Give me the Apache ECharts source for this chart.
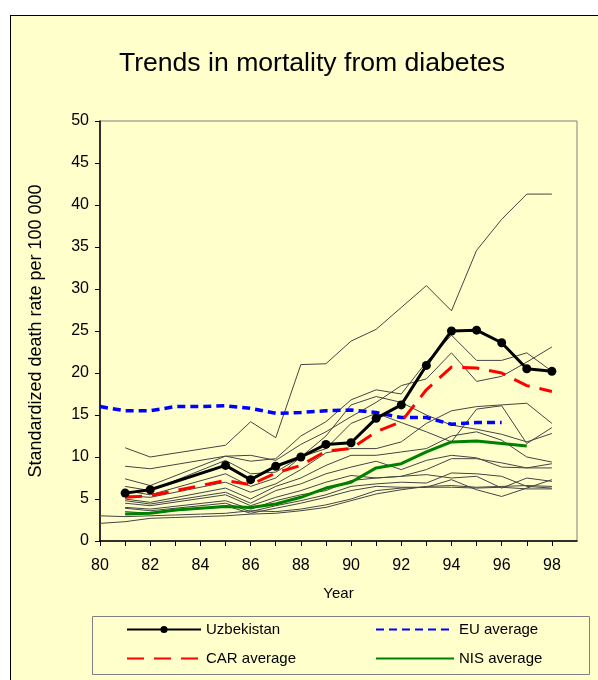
<!DOCTYPE html>
<html>
<head>
<meta charset="utf-8">
<script src="https://cdn.jsdelivr.net/npm/echarts@6/dist/echarts.min.js"></script>
<style>
  html, body { margin: 0; padding: 0; background: #fff; }
  #frame { position: absolute; left: 10px; top: 15px; width: 600px; height: 680px; background: #FFFFCC; border-left: 1px solid #000; border-top: 1px solid #000; }
  #main { position: absolute; left: 0; top: 0; width: 598px; height: 680px; }
</style>
</head>
<body>
<div id="frame"></div>
<div id="main"></div>
<script>
// years (most countries have no data for 83 and 84)
var yearsGap = [81, 82, 85, 86, 87, 88, 89, 90, 91, 92, 93, 94, 95, 96, 97, 98];
var yearsFull = [80, 81, 82, 83, 84, 85, 86, 87, 88, 89, 90, 91, 92, 93, 94, 95, 96, 97, 98];
var yearsEU = [80, 81, 82, 83, 84, 85, 86, 87, 88, 89, 90, 91, 92, 93, 94, 95, 96];
var yearsNIS = [81, 82, 83, 84, 85, 86, 87, 88, 89, 90, 91, 92, 93, 94, 95, 96, 97];

var uzbekistan = [5.7, 6.1, 9.0, 7.3, 8.9, 10.0, 11.5, 11.7, 14.6, 16.2, 20.9, 25.0, 25.1, 23.6, 20.5, 20.2];
var carAverage = [5.2, 5.4, 7.2, 6.7, 8.1, 9.0, 10.7, 11.0, 13.0, 14.2, 18.0, 20.7, 20.6, 20.0, 18.5, 17.8];
var euAverage = [16.0, 15.5, 15.5, 16.0, 16.0, 16.1, 15.8, 15.2, 15.3, 15.5, 15.6, 15.3, 14.7, 14.7, 13.9, 14.1, 14.1];
var nisAverage = [3.2, 3.3, 3.7, 3.9, 4.1, 4.0, 4.4, 5.2, 6.3, 7.0, 8.7, 9.2, 10.6, 11.8, 11.9, 11.6, 11.3];

// other countries, on yearsGap
var countriesGap = [
  [11.1, 10.0, 11.4, 14.2, 12.3, 21.0, 21.1, 23.8, 25.2, 27.8, 30.4, 27.4, 34.6, 38.3, 41.3, 41.3],
  [8.9, 8.6, 10.1, 10.2, 9.6, 11.5, 13.0, 14.8, 16.5, 18.5, 19.3, 22.4, 19.0, 19.6, 21.3, 23.1],
  [7.4, 6.6, 10.1, 9.5, 9.8, 12.5, 14.2, 16.8, 18.0, 17.5, 21.3, 24.5, 21.5, 21.5, 22.4, 20.2],
  [6.5, 6.0, 9.6, 8.0, 8.2, 10.0, 12.5, 16.2, 17.2, 16.5, 15.0, 13.8, 13.3, 12.7, 11.8, 12.8],
  [6.0, 5.5, 8.0, 6.5, 7.5, 10.0, 11.0, 14.0, 15.2, 14.1, 13.0, 11.8, 15.7, 16.1, 11.6, 13.5],
  [5.4, 5.2, 7.0, 5.8, 6.8, 8.5, 10.5, 11.0, 11.0, 11.8, 14.0, 15.5, 16.0, 16.2, 16.4, 14.0],
  [5.0, 4.6, 6.3, 5.0, 6.5, 7.5, 9.0, 10.2, 10.2, 10.6, 11.0, 12.5, 13.0, 12.0, 10.0, 9.4],
  [4.8, 4.4, 5.8, 4.5, 6.0, 6.8, 8.0, 8.8, 9.5, 8.5, 9.6, 10.2, 9.9, 8.8, 8.7, 8.7],
  [4.5, 4.2, 5.5, 4.2, 5.2, 6.0, 7.0, 7.8, 7.5, 7.7, 8.5, 9.8, 9.8, 9.3, 8.7, 9.2],
  [4.0, 3.8, 4.8, 3.8, 4.8, 5.5, 6.0, 7.2, 7.5, 7.7, 7.9, 7.5, 7.7, 6.3, 7.5, 7.1],
  [3.9, 3.6, 4.5, 3.5, 4.2, 4.8, 5.5, 6.5, 6.8, 7.0, 6.9, 8.1, 8.0, 7.7, 6.5, 6.3],
  [3.5, 3.3, 4.2, 3.3, 3.9, 4.5, 5.2, 6.0, 6.5, 6.4, 6.4, 7.3, 6.1, 5.3, 6.3, 7.3]
];
// other countries, on yearsFull
var countriesFull = [
  [3.0, 2.9, 3.0, 3.1, 3.2, 3.3, 3.6, 3.5, 3.8, 4.3, 5.0, 6.0, 6.3, 6.4, 6.4, 6.3, 6.4, 6.2, 6.2],
  [2.1, 2.3, 2.7, 2.8, 2.9, 3.0, 3.2, 3.3, 3.6, 4.0, 4.8, 5.6, 6.1, 6.5, 6.6, 6.4, 6.5, 6.6, 6.5]
];

function pairs(xs, ys) {
  return ys.map(function (v, i) { return [xs[i], v]; });
}

var series = [];
countriesGap.forEach(function (c) {
  series.push({ type: 'line', data: pairs(yearsGap, c), symbol: 'none', silent: true, z: 1,
    lineStyle: { color: '#444', width: 1 } });
});
countriesFull.forEach(function (c) {
  series.push({ type: 'line', data: pairs(yearsFull, c), symbol: 'none', silent: true, z: 1,
    lineStyle: { color: '#444', width: 1 } });
});
series.push({ name: 'EU average', type: 'line', data: pairs(yearsEU, euAverage), symbol: 'none', z: 3,
  itemStyle: { color: '#0000FF' }, lineStyle: { color: '#0000FF', width: 3.5, type: [8, 5] } });
series.push({ name: 'NIS average', type: 'line', data: pairs(yearsNIS, nisAverage), symbol: 'none', z: 3,
  itemStyle: { color: '#008000' }, lineStyle: { color: '#008000', width: 3 } });
series.push({ name: 'CAR average', type: 'line', data: pairs(yearsGap, carAverage), symbol: 'none', z: 4,
  itemStyle: { color: '#FF0000' }, lineStyle: { color: '#FF0000', width: 3, type: [17, 10] } });
series.push({ name: 'Uzbekistan', type: 'line', data: pairs(yearsGap, uzbekistan), symbol: 'circle', symbolSize: 9, z: 5,
  itemStyle: { color: '#000' }, lineStyle: { color: '#000', width: 3 } });

var font = 'Liberation Sans, Arial, sans-serif';
var legendText = { fontFamily: font, fontSize: 15, color: '#000' };
var noMark = { opacity: 0 };

var myChart = echarts.init(document.getElementById('main'));
myChart.setOption({
  animation: false,
  textStyle: { fontFamily: font, color: '#000' },
  title: {
    text: 'Trends in mortality from diabetes',
    left: 307, top: 45, textAlign: 'center',
    textStyle: { fontFamily: font, fontSize: 26.6, fontWeight: 'normal', color: '#000' }
  },
  grid: { left: 100, top: 121, right: 21, bottom: 139, show: true, borderColor: '#808080', borderWidth: 1, backgroundColor: 'transparent' },
  legend: [
    { orient: 'vertical', left: 121, top: 617, itemWidth: 74, itemHeight: 9, itemGap: 14, textStyle: legendText,
      data: [{ name: 'Uzbekistan' }, { name: 'CAR average', itemStyle: noMark }] },
    { orient: 'vertical', left: 370, top: 617, itemWidth: 78, itemHeight: 9, itemGap: 14, textStyle: legendText,
      data: [{ name: 'EU average', itemStyle: noMark }, { name: 'NIS average', itemStyle: noMark }] }
  ],
  graphic: [
    { type: 'rect', left: 90, top: 614, shape: { width: 497, height: 58 }, style: { fill: 'none', stroke: '#808080', lineWidth: 1 }, z: -1 }
  ],
  xAxis: {
    type: 'value', min: 80, max: 99, interval: 1,
    name: 'Year', nameLocation: 'middle', nameGap: 45,
    nameTextStyle: { fontFamily: font, fontSize: 15, color: '#000' },
    axisLine: { lineStyle: { color: '#000', width: 1.5 } },
    axisTick: { inside: false, length: 5, lineStyle: { color: '#000' } },
    splitLine: { show: false },
    axisLabel: { fontSize: 16, color: '#000', margin: 17, showMaxLabel: false,
      formatter: function (v) { return v % 2 === 0 ? String(v) : ''; } }
  },
  yAxis: {
    type: 'value', min: 0, max: 50, interval: 5,
    name: 'Standardized death rate per 100 000', nameLocation: 'middle', nameGap: 55, nameRotate: 90,
    nameTextStyle: { fontFamily: font, fontSize: 18, color: '#000' },
    axisLine: { show: true, lineStyle: { color: '#000', width: 1.5 } },
    axisTick: { show: true, length: 5, lineStyle: { color: '#000' } },
    splitLine: { show: false },
    axisLabel: { fontSize: 16, color: '#000', margin: 11 }
  },
  series: series
});
</script>
</body>
</html>
